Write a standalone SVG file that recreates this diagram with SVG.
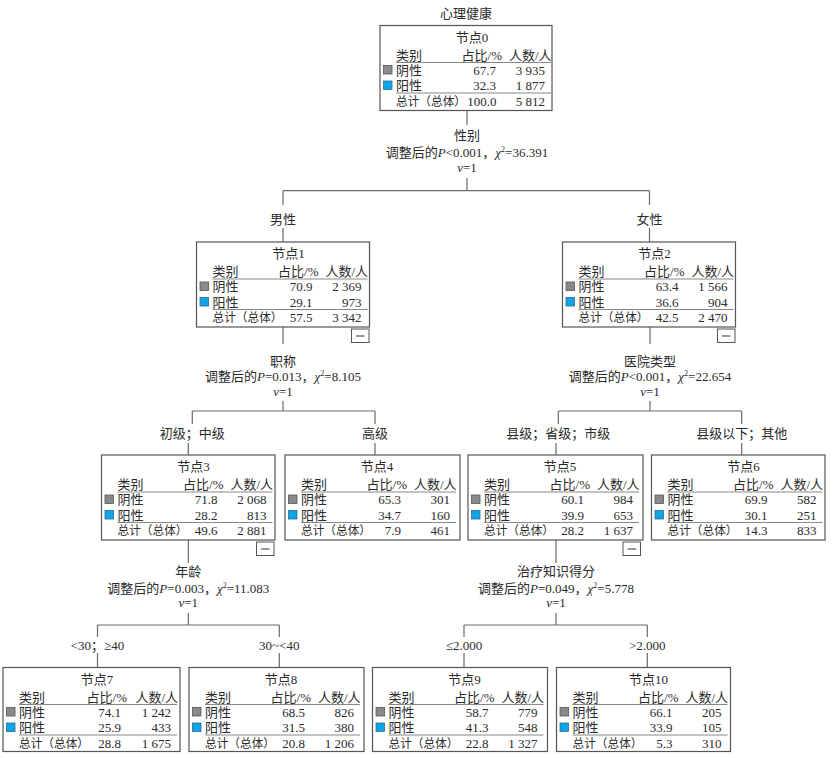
<svg xmlns="http://www.w3.org/2000/svg" width="833" height="758" viewBox="0 0 833 758">
<defs>
<style>
text{font-family:"Liberation Serif","Noto Sans CJK SC",serif;font-size:13px;fill:#2a2a2a}
.m{text-anchor:middle}
.e{text-anchor:end}
.t{font-size:12px}
.box{fill:#fff;stroke:#555;stroke-width:1.2}
.rule{stroke:#888;stroke-width:1}
.g{fill:#8a8a8a;stroke:#555;stroke-width:0.8}
.b{fill:#12a4e4;stroke:#2a6a9a;stroke-width:0.8}
.conn line{stroke:#6a6a6a;stroke-width:1.2}
.mini{fill:#fff;stroke:#555;stroke-width:1}
.i{font-style:italic}
</style>
<g id="minus">
<rect class="mini" x="155" y="87" width="17.5" height="13.5"/>
<line x1="159.5" y1="94" x2="168" y2="94" stroke="#555" stroke-width="1.2"/>
</g>
</defs>
<rect width="833" height="758" fill="#fff"/>
<text class="m" x="466" y="18">心理健康</text>

<g id="connectors" class="conn">
<line x1="467" y1="110.5" x2="467" y2="125"/>
<line x1="467" y1="178" x2="467" y2="190.7"/>
<line x1="283" y1="190.7" x2="649.5" y2="190.7"/>
<line x1="283" y1="190.7" x2="283" y2="205"/>
<line x1="283" y1="228" x2="283" y2="242"/>
<line x1="649.5" y1="190.7" x2="649.5" y2="205"/>
<line x1="649.5" y1="228" x2="649.5" y2="242"/>

<line x1="283" y1="327" x2="283" y2="344"/>
<line x1="283" y1="401" x2="283" y2="411"/>
<line x1="192.3" y1="411" x2="375" y2="411"/>
<line x1="192.3" y1="411" x2="192.3" y2="424"/>
<line x1="188.3" y1="443" x2="188.3" y2="455"/>
<line x1="375" y1="411" x2="375" y2="424"/>
<line x1="375" y1="443" x2="375" y2="455"/>

<line x1="650" y1="327" x2="650" y2="344"/>
<line x1="650" y1="401" x2="650" y2="411"/>
<line x1="558.3" y1="411" x2="741.7" y2="411"/>
<line x1="558.3" y1="411" x2="558.3" y2="424"/>
<line x1="556" y1="443" x2="556" y2="455"/>
<line x1="741.7" y1="411" x2="741.7" y2="424"/>
<line x1="741.7" y1="443" x2="741.7" y2="455"/>

<line x1="188.3" y1="540" x2="188.3" y2="563"/>
<line x1="188.3" y1="613" x2="188.3" y2="625"/>
<line x1="97.5" y1="625" x2="279.3" y2="625"/>
<line x1="97.5" y1="625" x2="97.5" y2="637"/>
<line x1="97.5" y1="653" x2="97.5" y2="667.5"/>
<line x1="279.3" y1="625" x2="279.3" y2="637"/>
<line x1="279.3" y1="653" x2="279.3" y2="667.5"/>

<line x1="556" y1="540" x2="556" y2="563"/>
<line x1="556" y1="613" x2="556" y2="625"/>
<line x1="464" y1="625" x2="647.3" y2="625"/>
<line x1="464" y1="625" x2="464" y2="637"/>
<line x1="464" y1="653" x2="464" y2="667.5"/>
<line x1="647.3" y1="625" x2="647.3" y2="637"/>
<line x1="647.3" y1="653" x2="647.3" y2="667.5"/>
</g>

<g id="split-labels">
<text class="m" x="467" y="140">性别</text>
<text class="m" x="467" y="156.5">调整后的<tspan class="i">P</tspan>&lt;0.001，<tspan class="i">χ</tspan><tspan dy="-5" font-size="8">2</tspan><tspan dy="5">=36.391</tspan></text>
<text class="m" x="467" y="172"><tspan class="i">v</tspan>=1</text>
<text class="m" x="283" y="224">男性</text>
<text class="m" x="649.5" y="224">女性</text>

<text class="m" x="283" y="366">职称</text>
<text class="m" x="283" y="381">调整后的<tspan class="i">P</tspan>=0.013，<tspan class="i">χ</tspan><tspan dy="-5" font-size="8">2</tspan><tspan dy="5">=8.105</tspan></text>
<text class="m" x="283" y="395.5"><tspan class="i">v</tspan>=1</text>

<text class="m" x="650" y="366">医院类型</text>
<text class="m" x="650" y="381">调整后的<tspan class="i">P</tspan>&lt;0.001，<tspan class="i">χ</tspan><tspan dy="-5" font-size="8">2</tspan><tspan dy="5">=22.654</tspan></text>
<text class="m" x="650" y="395.5"><tspan class="i">v</tspan>=1</text>

<text class="m" x="192.3" y="438">初级；中级</text>
<text class="m" x="375" y="438">高级</text>
<text class="m" x="558.3" y="438">县级；省级；市级</text>
<text class="m" x="741.7" y="438">县级以下；其他</text>

<text class="m" x="188.3" y="576">年龄</text>
<text class="m" x="188.3" y="592.5">调整后的<tspan class="i">P</tspan>=0.003，<tspan class="i">χ</tspan><tspan dy="-5" font-size="8">2</tspan><tspan dy="5">=11.083</tspan></text>
<text class="m" x="188.3" y="607"><tspan class="i">v</tspan>=1</text>

<text class="m" x="556" y="576">治疗知识得分</text>
<text class="m" x="556" y="592.5">调整后的<tspan class="i">P</tspan>=0.049，<tspan class="i">χ</tspan><tspan dy="-5" font-size="8">2</tspan><tspan dy="5">=5.778</tspan></text>
<text class="m" x="556" y="607"><tspan class="i">v</tspan>=1</text>

<text class="m" x="97.5" y="649.5">&lt;30；≥40</text>
<text class="m" x="279.3" y="649.5">30~&lt;40</text>
<text class="m" x="464" y="649.5">≤2.000</text>
<text class="m" x="647.3" y="649.5">&gt;2.000</text>
</g>

<g id="node0" transform="translate(380,25.5)">
<rect class="box" x="0" y="0" width="172" height="85"/>
<text class="m" x="92" y="16">节点0</text>
<text x="16" y="34">类别</text><text class="e" x="122" y="34">占比/%</text><text class="e" x="171.5" y="34">人数/人</text>
<line class="rule" x1="16" y1="37" x2="171" y2="37"/>
<rect class="g" x="3.5" y="40" width="8.5" height="8.5"/><text x="16" y="49">阴性</text><text class="e" x="116" y="49">67.7</text><text class="e" x="165" y="49">3 935</text>
<rect class="b" x="3.5" y="55.5" width="8.5" height="8.5"/><text x="16" y="64.5">阳性</text><text class="e" x="116" y="64.5">32.3</text><text class="e" x="165" y="64.5">1 877</text>
<line class="rule" x1="16" y1="67.5" x2="171" y2="67.5"/>
<text class="t" x="16" y="80" textLength="70" lengthAdjust="spacingAndGlyphs">总计（总体）</text><text class="e" x="116.5" y="80">100.0</text><text class="e" x="165" y="80">5 812</text>
</g>

<g id="node1" transform="translate(196.5,242)">
<rect class="box" x="0" y="0" width="173" height="85"/>
<text class="m" x="92" y="16">节点1</text>
<text x="16" y="34">类别</text><text class="e" x="122" y="34">占比/%</text><text class="e" x="171.5" y="34">人数/人</text>
<line class="rule" x1="16" y1="37" x2="171" y2="37"/>
<rect class="g" x="3.5" y="40" width="8.5" height="8.5"/><text x="16" y="49">阴性</text><text class="e" x="116" y="49">70.9</text><text class="e" x="165" y="49">2 369</text>
<rect class="b" x="3.5" y="55.5" width="8.5" height="8.5"/><text x="16" y="64.5">阳性</text><text class="e" x="116" y="64.5">29.1</text><text class="e" x="165" y="64.5">973</text>
<line class="rule" x1="16" y1="67.5" x2="171" y2="67.5"/>
<text class="t" x="16" y="80" textLength="70" lengthAdjust="spacingAndGlyphs">总计（总体）</text><text class="e" x="116" y="80">57.5</text><text class="e" x="165" y="80">3 342</text>
<use href="#minus"/>
</g>

<g id="node2" transform="translate(562.5,242)">
<rect class="box" x="0" y="0" width="173" height="85"/>
<text class="m" x="92" y="16">节点2</text>
<text x="16" y="34">类别</text><text class="e" x="122" y="34">占比/%</text><text class="e" x="171.5" y="34">人数/人</text>
<line class="rule" x1="16" y1="37" x2="171" y2="37"/>
<rect class="g" x="3.5" y="40" width="8.5" height="8.5"/><text x="16" y="49">阴性</text><text class="e" x="116" y="49">63.4</text><text class="e" x="165" y="49">1 566</text>
<rect class="b" x="3.5" y="55.5" width="8.5" height="8.5"/><text x="16" y="64.5">阳性</text><text class="e" x="116" y="64.5">36.6</text><text class="e" x="165" y="64.5">904</text>
<line class="rule" x1="16" y1="67.5" x2="171" y2="67.5"/>
<text class="t" x="16" y="80" textLength="70" lengthAdjust="spacingAndGlyphs">总计（总体）</text><text class="e" x="116" y="80">42.5</text><text class="e" x="165" y="80">2 470</text>
<use href="#minus"/>
</g>

<g id="node3" transform="translate(101.5,455)">
<rect class="box" x="0" y="0" width="173.5" height="85"/>
<text class="m" x="92" y="16">节点3</text>
<text x="16" y="34">类别</text><text class="e" x="122" y="34">占比/%</text><text class="e" x="171.5" y="34">人数/人</text>
<line class="rule" x1="16" y1="37" x2="171" y2="37"/>
<rect class="g" x="3.5" y="40" width="8.5" height="8.5"/><text x="16" y="49">阴性</text><text class="e" x="116" y="49">71.8</text><text class="e" x="165" y="49">2 068</text>
<rect class="b" x="3.5" y="55.5" width="8.5" height="8.5"/><text x="16" y="64.5">阳性</text><text class="e" x="116" y="64.5">28.2</text><text class="e" x="165" y="64.5">813</text>
<line class="rule" x1="16" y1="67.5" x2="171" y2="67.5"/>
<text class="t" x="16" y="80" textLength="70" lengthAdjust="spacingAndGlyphs">总计（总体）</text><text class="e" x="116" y="80">49.6</text><text class="e" x="165" y="80">2 881</text>
<use href="#minus"/>
</g>

<g id="node4" transform="translate(285,455)">
<rect class="box" x="0" y="0" width="175" height="85"/>
<text class="m" x="92" y="16">节点4</text>
<text x="16" y="34">类别</text><text class="e" x="122" y="34">占比/%</text><text class="e" x="171.5" y="34">人数/人</text>
<line class="rule" x1="16" y1="37" x2="171" y2="37"/>
<rect class="g" x="3.5" y="40" width="8.5" height="8.5"/><text x="16" y="49">阴性</text><text class="e" x="116" y="49">65.3</text><text class="e" x="165" y="49">301</text>
<rect class="b" x="3.5" y="55.5" width="8.5" height="8.5"/><text x="16" y="64.5">阳性</text><text class="e" x="116" y="64.5">34.7</text><text class="e" x="165" y="64.5">160</text>
<line class="rule" x1="16" y1="67.5" x2="171" y2="67.5"/>
<text class="t" x="16" y="80" textLength="70" lengthAdjust="spacingAndGlyphs">总计（总体）</text><text class="e" x="116" y="80">7.9</text><text class="e" x="165" y="80">461</text>
</g>

<g id="node5" transform="translate(468,455)">
<rect class="box" x="0" y="0" width="175" height="85"/>
<text class="m" x="92" y="16">节点5</text>
<text x="16" y="34">类别</text><text class="e" x="122" y="34">占比/%</text><text class="e" x="171.5" y="34">人数/人</text>
<line class="rule" x1="16" y1="37" x2="171" y2="37"/>
<rect class="g" x="3.5" y="40" width="8.5" height="8.5"/><text x="16" y="49">阴性</text><text class="e" x="116" y="49">60.1</text><text class="e" x="165" y="49">984</text>
<rect class="b" x="3.5" y="55.5" width="8.5" height="8.5"/><text x="16" y="64.5">阳性</text><text class="e" x="116" y="64.5">39.9</text><text class="e" x="165" y="64.5">653</text>
<line class="rule" x1="16" y1="67.5" x2="171" y2="67.5"/>
<text class="t" x="16" y="80" textLength="70" lengthAdjust="spacingAndGlyphs">总计（总体）</text><text class="e" x="116" y="80">28.2</text><text class="e" x="165" y="80">1 637</text>
<use href="#minus"/>
</g>

<g id="node6" transform="translate(651.5,455)">
<rect class="box" x="0" y="0" width="173.5" height="85"/>
<text class="m" x="92" y="16">节点6</text>
<text x="16" y="34">类别</text><text class="e" x="122" y="34">占比/%</text><text class="e" x="171.5" y="34">人数/人</text>
<line class="rule" x1="16" y1="37" x2="171" y2="37"/>
<rect class="g" x="3.5" y="40" width="8.5" height="8.5"/><text x="16" y="49">阴性</text><text class="e" x="116" y="49">69.9</text><text class="e" x="165" y="49">582</text>
<rect class="b" x="3.5" y="55.5" width="8.5" height="8.5"/><text x="16" y="64.5">阳性</text><text class="e" x="116" y="64.5">30.1</text><text class="e" x="165" y="64.5">251</text>
<line class="rule" x1="16" y1="67.5" x2="171" y2="67.5"/>
<text class="t" x="16" y="80" textLength="70" lengthAdjust="spacingAndGlyphs">总计（总体）</text><text class="e" x="116" y="80">14.3</text><text class="e" x="165" y="80">833</text>
</g>

<g id="node7" transform="translate(3,667.5)">
<rect class="box" x="0" y="0" width="177" height="84"/>
<text class="m" x="94" y="16">节点7</text>
<text x="16" y="34">类别</text><text class="e" x="124" y="34">占比/%</text><text class="e" x="175" y="34">人数/人</text>
<line class="rule" x1="16" y1="37" x2="174" y2="37"/>
<rect class="g" x="3.5" y="40" width="8.5" height="8.5"/><text x="16" y="49">阴性</text><text class="e" x="118" y="49">74.1</text><text class="e" x="168" y="49">1 242</text>
<rect class="b" x="3.5" y="55.5" width="8.5" height="8.5"/><text x="16" y="64.5">阳性</text><text class="e" x="118" y="64.5">25.9</text><text class="e" x="168" y="64.5">433</text>
<line class="rule" x1="16" y1="67.5" x2="174" y2="67.5"/>
<text class="t" x="16" y="80" textLength="70" lengthAdjust="spacingAndGlyphs">总计（总体）</text><text class="e" x="118" y="80">28.8</text><text class="e" x="168" y="80">1 675</text>
</g>

<g id="node8" transform="translate(189,667.5)">
<rect class="box" x="0" y="0" width="175" height="84"/>
<text class="m" x="92" y="16">节点8</text>
<text x="16" y="34">类别</text><text class="e" x="122" y="34">占比/%</text><text class="e" x="171.5" y="34">人数/人</text>
<line class="rule" x1="16" y1="37" x2="171" y2="37"/>
<rect class="g" x="3.5" y="40" width="8.5" height="8.5"/><text x="16" y="49">阴性</text><text class="e" x="116" y="49">68.5</text><text class="e" x="165" y="49">826</text>
<rect class="b" x="3.5" y="55.5" width="8.5" height="8.5"/><text x="16" y="64.5">阳性</text><text class="e" x="116" y="64.5">31.5</text><text class="e" x="165" y="64.5">380</text>
<line class="rule" x1="16" y1="67.5" x2="171" y2="67.5"/>
<text class="t" x="16" y="80" textLength="70" lengthAdjust="spacingAndGlyphs">总计（总体）</text><text class="e" x="116" y="80">20.8</text><text class="e" x="165" y="80">1 206</text>
</g>

<g id="node9" transform="translate(372.5,667.5)">
<rect class="box" x="0" y="0" width="175" height="84"/>
<text class="m" x="92" y="16">节点9</text>
<text x="16" y="34">类别</text><text class="e" x="122" y="34">占比/%</text><text class="e" x="171.5" y="34">人数/人</text>
<line class="rule" x1="16" y1="37" x2="171" y2="37"/>
<rect class="g" x="3.5" y="40" width="8.5" height="8.5"/><text x="16" y="49">阴性</text><text class="e" x="116" y="49">58.7</text><text class="e" x="165" y="49">779</text>
<rect class="b" x="3.5" y="55.5" width="8.5" height="8.5"/><text x="16" y="64.5">阳性</text><text class="e" x="116" y="64.5">41.3</text><text class="e" x="165" y="64.5">548</text>
<line class="rule" x1="16" y1="67.5" x2="171" y2="67.5"/>
<text class="t" x="16" y="80" textLength="70" lengthAdjust="spacingAndGlyphs">总计（总体）</text><text class="e" x="116" y="80">22.8</text><text class="e" x="165" y="80">1 327</text>
</g>

<g id="node10" transform="translate(556.5,667.5)">
<rect class="box" x="0" y="0" width="174" height="84"/>
<text class="m" x="92" y="16">节点10</text>
<text x="16" y="34">类别</text><text class="e" x="122" y="34">占比/%</text><text class="e" x="171.5" y="34">人数/人</text>
<line class="rule" x1="16" y1="37" x2="171" y2="37"/>
<rect class="g" x="3.5" y="40" width="8.5" height="8.5"/><text x="16" y="49">阴性</text><text class="e" x="116" y="49">66.1</text><text class="e" x="165" y="49">205</text>
<rect class="b" x="3.5" y="55.5" width="8.5" height="8.5"/><text x="16" y="64.5">阳性</text><text class="e" x="116" y="64.5">33.9</text><text class="e" x="165" y="64.5">105</text>
<line class="rule" x1="16" y1="67.5" x2="171" y2="67.5"/>
<text class="t" x="16" y="80" textLength="70" lengthAdjust="spacingAndGlyphs">总计（总体）</text><text class="e" x="116" y="80">5.3</text><text class="e" x="165" y="80">310</text>
</g>
</svg>
